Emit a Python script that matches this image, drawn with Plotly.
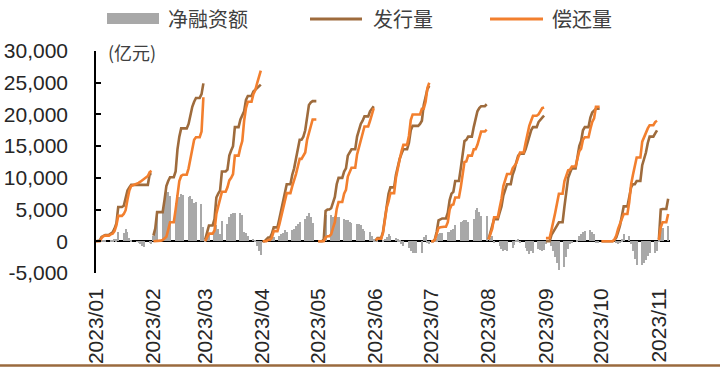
import pandas as pd
import plotly.graph_objects as go

# Month labels on the x axis
month_starts = ["2023-01-01", "2023-02-01", "2023-03-01", "2023-04-01", "2023-05-01", "2023-06-01",
                "2023-07-01", "2023-08-01", "2023-09-01", "2023-10-01", "2023-11-01"]
month_labels = ["2023/01", "2023/02", "2023/03", "2023/04", "2023/05", "2023/06",
                "2023/07", "2023/08", "2023/09", "2023/10", "2023/11"]

# Month-to-date cumulative issuance (发行量), 100 million yuan, one value per calendar day
iss_jan = [0, 0, 100, 700, 900, 1000, 1000, 1000, 1200, 1400, 2000, 2800, 5400, 5400, 5400, 5600, 6900, 8000, 8500, 8900,
           8900, 8900, 8900, 8900, 8900, 8900, 8900, 8900, 8900, 10600, 10600]
iss_feb = [900, 2000, 4600, 4600, 4600, 4600, 6500, 8700, 9500, 10100, 10100, 10100, 11000, 14500, 16500, 17800, 17800,
           17800, 17800, 18500, 20000, 21200, 22000, 22600, 22600, 22600, 23200, 24900]
iss_mar = [300, 1500, 2500, 2500, 2500, 3500, 6900, 7500, 8000, 11000, 11000, 11000, 11300, 13500, 14300, 15000, 18000,
           18000, 18000, 19200, 20000, 20500, 22300, 22900, 22900, 22900, 23600, 23900, 24100, 24400, 24700]
iss_apr = [0, 0, 300, 600, 600, 1200, 2200, 2200, 2200, 3500, 5000, 6500, 8000, 9000, 9000, 9000, 10500, 11500, 13000,
           14500, 16000, 16000, 16500, 17500, 20000, 21500, 21900, 22100, 22100, 22100]
iss_may = [0, 0, 0, 300, 4800, 5000, 5000, 5200, 6000, 7000, 9000, 10000, 10000, 10000, 11000, 11500, 13500, 14000, 14500,
           14500, 14500, 16500, 17500, 18500, 19000, 19700, 19700, 19700, 20500, 21000, 21300]
iss_jun = [100, 500, 500, 500, 1500, 3500, 6000, 7500, 8500, 8500, 8500, 10500, 12000, 13000, 13800, 14500, 14500, 14500,
           15500, 17500, 18200, 18200, 18200, 18200, 18500, 19000, 21500, 23000, 24000, 24500]
iss_jul = [0, 0, 300, 1500, 3300, 3500, 3600, 3600, 3600, 4500, 6500, 7500, 7800, 9500, 9500, 9500, 11500, 13500, 15800,
           16000, 16500, 16500, 16500, 18000, 19500, 20500, 21000, 21300, 21300, 21300, 21600]
iss_aug = [300, 1500, 2800, 3500, 3500, 3500, 4500, 5500, 7200, 8300, 9000, 9000, 9000, 10500, 11300, 12500, 13500, 13800,
           13800, 13800, 14500, 15500, 16200, 17500, 18000, 18000, 18000, 18800, 19200, 19500, 19800]
iss_sep = [0, 0, 0, 1000, 1500, 2000, 2500, 3000, 3000, 3000, 5500, 8000, 10000, 10800, 11500, 11500, 11500, 13200, 15000,
           15800, 17500, 18000, 18000, 18000, 19500, 20300, 20600, 20900, 20900, 20900]
iss_oct = [0, 0, 0, 0, 0, 0, 0, 200, 600, 1500, 2500, 4000, 5500, 5500, 5500, 7000, 8500, 9000, 9000, 9500, 9500, 9500,
           12000, 13000, 14000, 15500, 16500, 16500, 16500, 17000, 17500]
iss_nov = [300, 5000, 5100, 5100, 5100, 6700]

# Month-to-date cumulative repayment (偿还量)
rep_jan = [0, 0, 0, 500, 800, 900, 900, 900, 1100, 1200, 1600, 2500, 4000, 4000, 4000, 4300, 4900, 6600, 8000, 8700,
           8800, 8900, 9000, 9200, 9400, 9600, 9800, 10000, 10300, 10900, 11100]
rep_feb = [0, 0, 100, 100, 100, 200, 400, 700, 1800, 3000, 3000, 3000, 5000, 7200, 9500, 10300, 10500, 10500, 10500,
           11500, 12800, 14500, 16000, 16400, 16400, 16400, 17300, 22700]
rep_mar = [0, 700, 1200, 1200, 1200, 1700, 4300, 5500, 6900, 7800, 7800, 7800, 8500, 9600, 10000, 10600, 13500, 13500,
           13500, 14800, 15800, 19000, 21000, 22000, 22000, 22000, 23200, 23800, 24900, 26000, 26900]
rep_apr = [0, 0, 0, 200, 200, 600, 1600, 1600, 1600, 2600, 3800, 5200, 6200, 7600, 7600, 7600, 8700, 9500, 10600, 11800,
           13000, 13000, 13500, 14000, 16000, 17000, 18000, 19200, 19200, 19200]
rep_may = [0, 0, 0, 0, 600, 800, 800, 1100, 2100, 3000, 5100, 6200, 6200, 6200, 7500, 8100, 10200, 11000, 11600, 11600,
           11600, 13700, 14800, 16000, 17000, 18100, 18100, 18100, 19000, 20100, 21000]
rep_jun = [200, 400, 400, 400, 1300, 3100, 5300, 6300, 7600, 7600, 7600, 10000, 11700, 12900, 14200, 15200, 15200, 15200,
           16600, 19100, 20000, 20000, 20000, 20000, 20000, 20900, 20900, 22000, 24200, 25000]
rep_jul = [0, 0, 200, 1200, 2100, 2200, 2300, 2300, 2300, 3000, 5000, 5700, 5800, 6900, 6900, 6900, 8500, 10300, 12500,
           12600, 13500, 13500, 13500, 14500, 14500, 15200, 16400, 17300, 17300, 17300, 17600]
rep_aug = [300, 1000, 2000, 3800, 3800, 3800, 5300, 6700, 8700, 9600, 10600, 10600, 10600, 11500, 11900, 12300, 13200,
           14000, 14000, 14000, 15500, 17100, 18200, 19000, 19800, 19800, 19800, 20000, 20600, 21000, 21100]
rep_sep = [500, 500, 500, 1800, 3000, 4500, 6000, 7500, 7500, 7500, 9500, 10500, 11200, 11300, 11800, 11800, 11800, 13000,
           14200, 14600, 16000, 16400, 16400, 16400, 17700, 18800, 19400, 21200, 21200, 21200]
rep_oct = [0, 0, 0, 0, 0, 0, 0, 300, 900, 2000, 2700, 3700, 4300, 4300, 4300, 6200, 9000, 10500, 11800, 13200, 13200,
           13200, 15700, 16500, 17000, 17800, 18300, 18300, 18300, 18800, 19000]
rep_nov = [200, 2200, 3000, 3000, 3000, 4300]

issuance = [iss_jan, iss_feb, iss_mar, iss_apr, iss_may, iss_jun, iss_jul, iss_aug, iss_sep, iss_oct, iss_nov]
repayment = [rep_jan, rep_feb, rep_mar, rep_apr, rep_may, rep_jun, rep_jul, rep_aug, rep_sep, rep_oct, rep_nov]

# y axis ticks
y_ticks = [-5000, 0, 5000, 10000, 15000, 20000, 25000, 30000]
y_tick_text = ["-5,000", "0", "5,000", "10,000", "15,000", "20,000", "25,000", "30,000"]

BROWN = "#9E6B3C"
ORANGE = "#F27F2E"
GRAY = "#A8A8A8"

# Assemble per-day series; each month is its own line segment
line_x, line_iss, line_rep = [], [], []
bar_x, bar_net = [], []
for start, iss, rep in zip(month_starts, issuance, repayment):
    days = pd.date_range(start, periods=len(iss), freq="D")
    line_x += list(days) + [None]
    line_iss += list(iss) + [None]
    line_rep += list(rep) + [None]
    for day, a, b in zip(days, iss, rep):
        if day.dayofweek < 5:  # net financing bars on weekdays
            bar_x.append(day)
            bar_net.append(a - b)  # net financing = issuance - repayment

fig = go.Figure()
fig.add_trace(go.Bar(x=bar_x, y=bar_net, name="净融资额", marker_color=GRAY,
                     marker_line_width=0, width=0.6 * 86400000, showlegend=False))
fig.add_trace(go.Scatter(x=line_x, y=line_iss, name="发行量", mode="lines",
                         line=dict(color=BROWN, width=2.6), connectgaps=False, showlegend=False))
fig.add_trace(go.Scatter(x=line_x, y=line_rep, name="偿还量", mode="lines",
                         line=dict(color=ORANGE, width=2.6), connectgaps=False, showlegend=False))

W, H = 720, 367
L, R, T, B = 96, 50, 51, 94
pw, ph = W - L - R, H - T - B


def px(xp):
    return (xp - L) / pw


def py(yp):
    return (H - B - yp) / ph


shapes = [
    # legend swatches
    dict(type="rect", xref="paper", yref="paper", x0=px(107), x1=px(159), y0=py(24), y1=py(13),
         fillcolor=GRAY, line_width=0),
    dict(type="line", xref="paper", yref="paper", x0=px(310), x1=px(362), y0=py(19), y1=py(19),
         line=dict(color=BROWN, width=3)),
    dict(type="line", xref="paper", yref="paper", x0=px(490), x1=px(543), y0=py(19), y1=py(19),
         line=dict(color=ORANGE, width=3)),
    # bottom rule
    dict(type="line", xref="paper", yref="paper", x0=px(0), x1=px(720), y0=py(365.5), y1=py(365.5),
         line=dict(color="#9A6A3E", width=2.5)),
]

cjk = "Noto Sans CJK SC"
annotations = [
    dict(text="净融资额", x=px(166), y=py(18.5), xref="paper", yref="paper", xanchor="left", yanchor="middle",
         showarrow=False, font=dict(family=cjk, size=20, color="#404040")),
    dict(text="发行量", x=px(371), y=py(18.5), xref="paper", yref="paper", xanchor="left", yanchor="middle",
         showarrow=False, font=dict(family=cjk, size=20, color="#404040")),
    dict(text="偿还量", x=px(550), y=py(18.5), xref="paper", yref="paper", xanchor="left", yanchor="middle",
         showarrow=False, font=dict(family=cjk, size=20, color="#404040")),
    dict(text="(亿元)", x=px(106), y=py(52), xref="paper", yref="paper", xanchor="left", yanchor="middle",
         showarrow=False, font=dict(family=cjk, size=18, color="#404040")),
]

fig.update_layout(
    width=W, height=H,
    margin=dict(l=L, r=R, t=T, b=B, pad=0, autoexpand=False),
    paper_bgcolor="white", plot_bgcolor="white",
    bargap=0, barmode="relative",
    font=dict(family="Liberation Sans, Arial, sans-serif", size=21, color="#262626"),
    shapes=shapes, annotations=annotations,
    showlegend=False,
)
fig.update_xaxes(
    type="date", range=["2023-01-01", "2023-11-07"], automargin=False,
    tickvals=month_starts, ticktext=month_labels, tickangle=-90,
    showline=False, showgrid=False, zeroline=False, ticks="",
    ticklabelstandoff=10,
    tickfont=dict(family="Liberation Sans, Arial, sans-serif", size=21, color="#262626"),
)
fig.update_yaxes(
    range=[-5000, 30000], tickvals=y_ticks, ticktext=y_tick_text, automargin=False,
    showline=True, linecolor="black", linewidth=1.5,
    ticks="inside", ticklen=5, tickcolor="black", tickwidth=1.5,
    showgrid=False, zeroline=True, zerolinecolor="black", zerolinewidth=1.5,
    ticklabelstandoff=22,
    tickfont=dict(family="Liberation Sans, Arial, sans-serif", size=21, color="#262626"),
)

fig.write_html("out.html")
